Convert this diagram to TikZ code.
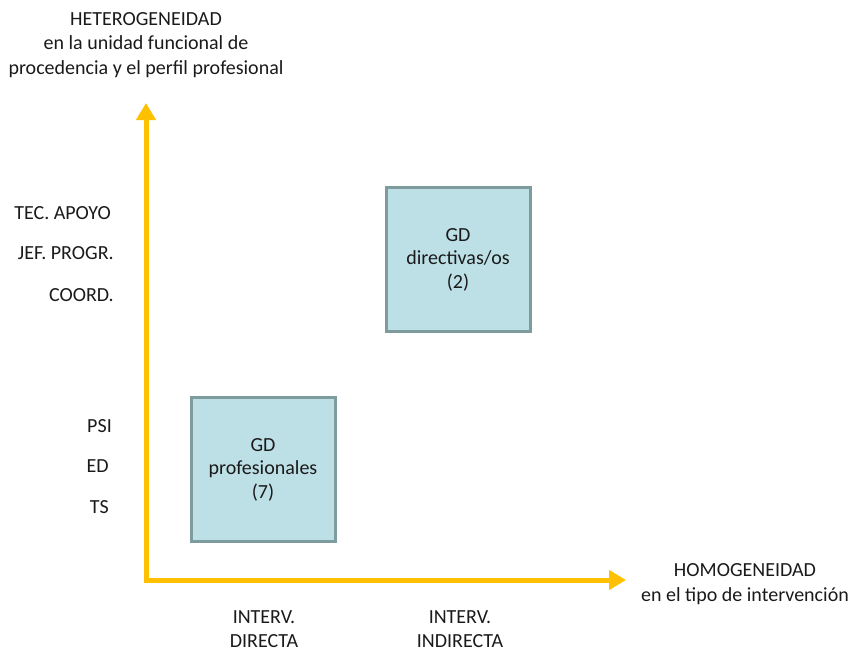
\documentclass[tikz,border=0pt]{standalone}
\usepackage{fontspec}
\setmainfont{Carlito}
\usetikzlibrary{arrows.meta}
\definecolor{axisgold}{HTML}{FFC000}
\definecolor{boxfill}{HTML}{BDE0E6}
\definecolor{boxline}{HTML}{7E9C9E}
\definecolor{txt}{HTML}{1A1A1A}
\tikzset{
  axis/.style={draw=axisgold, line width=5pt, -{Triangle[length=17pt,width=19pt]}},
  group/.style={draw=boxline, fill=boxfill, line width=3pt, minimum width=144pt, minimum height=144pt, align=center, text=txt, font=\fontsize{20pt}{23.5pt}\selectfont, inner sep=0pt},
  lbl/.style={text=txt, font=\fontsize{20pt}{24.5pt}\selectfont, align=center, inner sep=0pt},
  tick/.style={text=txt, font=\fontsize{20pt}{22pt}\selectfont, anchor=east, inner sep=0pt}
}
\begin{document}
\begin{tikzpicture}[x=1pt, y=-1pt]
  \useasboundingbox (0,0) rectangle (852,651);
  % axes
  \coordinate (origin) at (146,580);
  \coordinate (ytop) at (146,103);
  \coordinate (xend) at (626,580);
  \draw[axis, line cap=rect] (origin) -- (ytop);
  \draw[axis] (origin) -- (xend);
  % axis titles
  \node[lbl] (ytitle) at (146,45) {HETEROGENEIDAD\\en la unidad funcional de\\procedencia y el perfil profesional};
  \node[lbl] (xtitle) at (745,584) {HOMOGENEIDAD\\en el tipo de intervención};
  % vertical categories
  \node[tick] (tec) at (111,213) {TEC. APOYO};
  \node[tick] (jef) at (114,253) {JEF. PROGR.};
  \node[tick] (coord) at (114,295) {COORD.};
  \node[tick] (psi) at (112,426) {PSI};
  \node[tick] (ed) at (109,466) {ED};
  \node[tick] (ts) at (109,507) {TS};
  % horizontal categories
  \node[lbl] (dir) at (264,629) {INTERV.\\DIRECTA};
  \node[lbl] (indir) at (460,629) {INTERV.\\INDIRECTA};
  % groups
  \node[group] (prof) at (263,469.5) {GD\\profesionales\\(7)};
  \node[group] (direc) at (458,259.5) {GD\\directivas/os\\(2)};
\end{tikzpicture}
\end{document}
